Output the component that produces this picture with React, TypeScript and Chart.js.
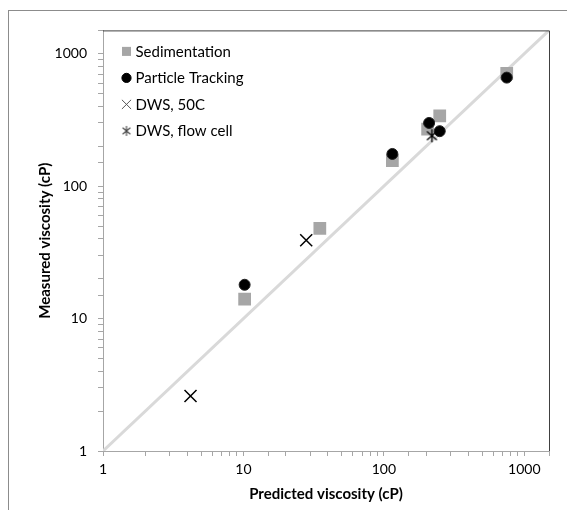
import React, { useEffect, useRef } from "react";
import { Chart, registerables } from "chart.js";
import { drawPoint } from "chart.js/helpers";

Chart.register(...registerables);

// ---- data ----
const sedX = [10.2, 35, 115, 205, 250, 750];
const sedY = [14, 48, 156, 270, 340, 710];
const ptX = [10.2, 115, 210, 250, 750];
const ptY = [18, 175, 300, 260, 660];
const dws50X = [4.2, 28];
const dws50Y = [2.6, 39];
const dwsFlowX = [220];
const dwsFlowY = [240];
const identityXY = [1, 1500];
const majorTicks = [1, 10, 100, 1000];
const seriesNames = ["Sedimentation", "Particle Tracking", "DWS, 50C", "DWS, flow cell"];
const xTitle = "Predicted viscosity (cP)";
const yTitle = "Measured viscosity (cP)";

const FONT = "Lato, 'Open Sans', sans-serif";

function makeAsterisk(r: number, lw: number, color: string): HTMLCanvasElement {
  const s = Math.ceil(2 * r + 4);
  const c = document.createElement("canvas");
  c.width = s;
  c.height = s;
  const g = c.getContext("2d")!;
  g.strokeStyle = color;
  g.lineWidth = lw;
  const cx = s / 2;
  const cy = s / 2;
  const angles = [90, 40, 140];
  g.beginPath();
  for (const a of angles) {
    const rad = (a * Math.PI) / 180;
    g.moveTo(cx - Math.cos(rad) * r, cy - Math.sin(rad) * r);
    g.lineTo(cx + Math.cos(rad) * r, cy + Math.sin(rad) * r);
  }
  g.stroke();
  return c;
}

const toPts = (xs: number[], ys: number[]) => xs.map((x, i) => ({ x, y: ys[i] }));

export default function App() {
  const ref = useRef<HTMLCanvasElement | null>(null);

  useEffect(() => {
    if (!ref.current) return;
    const starBig = makeAsterisk(6.5, 1.4, "#000");
    const starSmall = makeAsterisk(5, 1.1, "#444");

    const legendItems = [
      { name: seriesNames[0], style: "rect", r: 6.4, fill: "#a6a6a6", stroke: "#a6a6a6", lw: 0 },
      { name: seriesNames[1], style: "circle", r: 4.6, fill: "#000", stroke: "#000", lw: 1 },
      { name: seriesNames[2], style: "crossRot", r: 6.5, fill: "#555", stroke: "#555", lw: 1 },
      { name: seriesNames[3], style: starSmall, r: 5, fill: "#444", stroke: "#444", lw: 1 },
    ];

    const customPlugin = {
      id: "custom",
      beforeDraw(chart: any) {
        const { ctx, width, height } = chart;
        ctx.save();
        ctx.fillStyle = "#fff";
        ctx.fillRect(0, 0, width, height);
        ctx.restore();
      },
      afterDraw(chart: any) {
        const { ctx, chartArea } = chart;
        ctx.save();
        // top & right plot border
        ctx.strokeStyle = "#404040";
        ctx.lineWidth = 1;
        ctx.beginPath();
        ctx.moveTo(chartArea.left, chartArea.top + 0.5);
        ctx.lineTo(chartArea.right + 0.5, chartArea.top + 0.5);
        ctx.lineTo(chartArea.right + 0.5, chartArea.bottom);
        ctx.stroke();
        // legend
        const mx = chartArea.left + 23.5;
        const tx = chartArea.left + 32.5;
        ctx.font = `15px ${FONT}`;
        ctx.textBaseline = "middle";
        ctx.textAlign = "left";
        legendItems.forEach((it, i) => {
          const y = chartArea.top + 21 + i * 26.5;
          ctx.fillStyle = it.fill;
          ctx.strokeStyle = it.stroke;
          ctx.lineWidth = it.lw;
          drawPoint(ctx, { pointStyle: it.style as any, radius: it.r, rotation: 0, borderWidth: it.lw }, mx, y);
          ctx.fillStyle = "#000";
          ctx.fillText(it.name, tx, y + 0.5);
        });
        ctx.restore();
      },
    };

    const tickCb = (v: any) => (majorTicks.includes(Number(v)) ? String(v) : "");

    const chart = new Chart(ref.current, {
      type: "scatter",
      data: {
        datasets: [
          {
            label: "y=x",
            data: toPts(identityXY, identityXY),
            showLine: true,
            borderColor: "#d9d9d9",
            borderWidth: 3,
            pointRadius: 0,
            order: 5,
          } as any,
          {
            label: seriesNames[0],
            data: toPts(sedX, sedY),
            pointStyle: "rect",
            pointRadius: 9,
            backgroundColor: "#a6a6a6",
            borderColor: "#a6a6a6",
            borderWidth: 0,
            order: 4,
          },
          {
            label: seriesNames[1],
            data: toPts(ptX, ptY),
            pointStyle: "circle",
            pointRadius: 5.5,
            backgroundColor: "#000",
            borderColor: "#222",
            borderWidth: 1,
            order: 3,
          },
          {
            label: seriesNames[2],
            data: toPts(dws50X, dws50Y),
            pointStyle: "crossRot",
            pointRadius: 8.5,
            backgroundColor: "#000",
            borderColor: "#000",
            borderWidth: 1.5,
            order: 2,
          },
          {
            label: seriesNames[3],
            data: toPts(dwsFlowX, dwsFlowY),
            pointStyle: starBig as any,
            pointRadius: 7,
            backgroundColor: "#000",
            borderColor: "#000",
            order: 1,
          },
        ],
      },
      options: {
        responsive: false,
        animation: false,
        events: [],
        layout: { padding: { left: 0, right: 26, top: 18, bottom: 0 } },
        plugins: { legend: { display: false }, tooltip: { enabled: false } },
        scales: {
          x: {
            type: "logarithmic",
            min: 1,
            max: 1500,
            border: { color: "#a6a6a6", width: 1 },
            grid: { drawOnChartArea: false, color: "#a6a6a6", tickLength: 5 },
            ticks: {
              autoSkip: false,
              maxRotation: 0,
              padding: 5,
              color: "#000",
              font: { family: FONT, size: 14 },
              callback: tickCb,
            },
            title: {
              display: true,
              text: xTitle,
              color: "#000",
              font: { family: FONT, size: 15, weight: "bold" },
              padding: { top: 0, bottom: 7 },
            },
            afterFit: (s: any) => {
              s.height = 59;
            },
          },
          y: {
            type: "logarithmic",
            min: 1,
            max: 1500,
            border: { color: "#a6a6a6", width: 1 },
            grid: { drawOnChartArea: false, color: "#a6a6a6", tickLength: 5 },
            ticks: {
              autoSkip: false,
              padding: 11,
              color: "#000",
              font: { family: FONT, size: 14 },
              callback: tickCb,
            },
            title: {
              display: true,
              text: yTitle,
              color: "#000",
              font: { family: FONT, size: 15, weight: "bold" },
              padding: { top: 27.5, bottom: 0 },
            },
            afterFit: (s: any) => {
              s.width = 94;
            },
          },
        },
      },
      plugins: [customPlugin],
    } as any);

    return () => chart.destroy();
  }, []);

  return (
    <div
      style={{
        position: "relative",
        width: 567,
        height: 500,
        marginTop: 2,
        borderLeft: "1px solid #8c8c8c",
        borderTop: "1px solid #8c8c8c",
        boxSizing: "border-box",
      }}
    >
      <canvas
        ref={ref}
        width={566}
        height={499}
        style={{ position: "absolute", left: 0, top: 0, width: 566, height: 499 }}
      />
    </div>
  );
}
